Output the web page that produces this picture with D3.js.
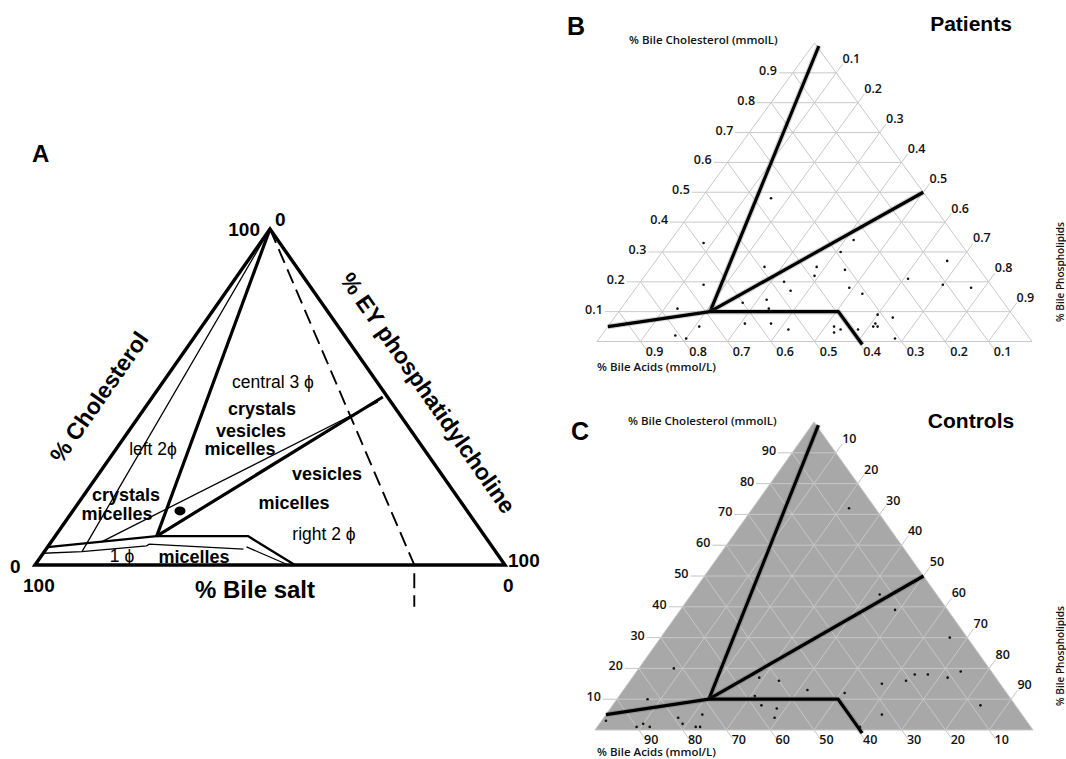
<!DOCTYPE html>
<html>
<head>
<meta charset="utf-8">
<script src="https://cdn.jsdelivr.net/npm/d3@7"></script>
<style>
body { margin: 0; background: #fff; }
svg { display: block; }
</style>
</head>
<body>
<div id="chart"></div>
<script>
// ---------- data ----------
// Panel A (values in %: [cholesterol, EY phosphatidylcholine])
var aThickLines = [
  [[100, 0], [8.6, 21.6]],
  [[8.6, 21.6], [50, 49]]
];
var aThinLines = [
  [[100, 0], [4, 8]],
  [[48.5, 48.7], [6.9, 10.7]],
  [[3.5, 0], [4, 8], [5.7, 20.9], [6.2, 21.2], [4.7, 42]],
  [[5.4, 42.3], [0, 53.9]]
];
var aMicelleBoundary = [[5.3, 0], [8.6, 21.6], [8.6, 41], [0, 55.3]];
var aDilutionLine = [[100, 0], [0, 80.7], [-12.4, 86.9]];
var aBileDot = [16.1, 22.8];
var aRegionLabels = ["central 3 ϕ", "crystals", "vesicles", "micelles", "left 2ϕ",
  "vesicles", "micelles", "right 2 ϕ", "crystals", "micelles", "1 ϕ", "micelles"];
var aRegionBold = [false, true, true, true, false, true, true, false, true, true, false, true];

// Panel B: patients (fractions)
var patientsChol = [0.48, 0.33, 0.19, 0.11, 0.05, 0.02, 0.01, 0.13, 0.25, 0.20, 0.17, 0.14, 0.11,
  0.06, 0.06, 0.04, 0.25, 0.22, 0.05, 0.03, 0.04, 0.30, 0.24, 0.34, 0.18, 0.16, 0.04, 0.05,
  0.05, 0.06, 0.09, 0.08, 0.01, 0.21, 0.27, 0.19, 0.18];
var patientsPL = [0.16, 0.08, 0.15, 0.13, 0.21, 0.17, 0.20, 0.27, 0.26, 0.33, 0.36, 0.32, 0.34,
  0.31, 0.37, 0.42, 0.38, 0.39, 0.52, 0.53, 0.54, 0.41, 0.45, 0.42, 0.49, 0.53, 0.58, 0.61,
  0.62, 0.61, 0.60, 0.64, 0.68, 0.61, 0.67, 0.70, 0.77];

// Panel C: controls (%)
var controlsChol = [72, 44, 39, 30, 20, 10, 3, 1, 2, 1, 4, 2, 1, 1, 5, 17, 16, 11, 8, 7, 4,
  13, 12, 1, 15, 16, 18, 18, 17, 19, 8, 5];
var controlsPL = [22, 43, 49, 66, 8, 7, 1, 9, 10, 12, 17, 19, 22.5, 23.5, 22, 29, 34, 31, 34,
  38, 39, 42, 51, 60, 58, 63, 64, 67, 72, 74, 84, 63];

// zone boundaries drawn on B and C (fractions: [cholesterol, phospholipid])
var zoneLines = [
  [[0.99, 0.015], [0.10, 0.21]],
  [[0.10, 0.21], [0.50, 0.50]],
  [[0.05, 0.0], [0.10, 0.21], [0.10, 0.505], [-0.01, 0.615]]
];

var bTicks = [0.1, 0.2, 0.3, 0.4, 0.5, 0.6, 0.7, 0.8, 0.9];
var cTicks = [10, 20, 30, 40, 50, 60, 70, 80, 90];

// ---------- drawing ----------
var W = 1066, H = 759;
var svg = d3.select("#chart").append("svg")
  .attr("width", W)
  .attr("height", H)
  .style("background", "#fff");

var ARIAL = "'Liberation Sans', Arial, Helvetica, sans-serif";
var UI = "'Open Sans', 'Noto Sans', sans-serif";

// ternary projection: apex = cholesterol, bottom-right = phospholipid
function projection(frame, max) {
  var sx = d3.scaleLinear().domain([0, max]).range([frame.left, frame.right]);
  var sy = d3.scaleLinear().domain([0, max]).range([frame.base, frame.top]);
  return function(c, p) { return [sx(p + c / 2), sy(c)]; };
}

function lineGen(pt) {
  return d3.line()
    .x(function(d) { return pt(d[0], d[1])[0]; })
    .y(function(d) { return pt(d[0], d[1])[1]; });
}

// ===== Panel A =====
var gA = svg.append("g");
var ptA = projection({ left: 35, right: 505, base: 565, top: 229 }, 100);
var lineA = lineGen(ptA);

gA.append("text")
  .attr("x", 32).attr("y", 162)
  .attr("font-family", ARIAL).attr("font-weight", "bold").attr("font-size", 24)
  .text("A");

gA.append("path")
  .attr("d", lineA(aDilutionLine))
  .attr("fill", "none").attr("stroke", "#000")
  .attr("stroke-width", 1.9).attr("stroke-dasharray", "15,7");

aThinLines.forEach(function(l) {
  gA.append("path").attr("d", lineA(l))
    .attr("fill", "none").attr("stroke", "#000").attr("stroke-width", 1.3);
});

gA.append("path").attr("d", lineA(aMicelleBoundary))
  .attr("fill", "none").attr("stroke", "#000").attr("stroke-width", 2.3)
  .attr("stroke-linejoin", "round");

aThickLines.forEach(function(l) {
  gA.append("path").attr("d", lineA(l))
    .attr("fill", "none").attr("stroke", "#000").attr("stroke-width", 3.2);
});

gA.append("path")
  .attr("d", lineA([[0, 0], [100, 0], [0, 100]]) + "Z")
  .attr("fill", "none").attr("stroke", "#000").attr("stroke-width", 3.4)
  .attr("stroke-linejoin", "miter");

var dot = ptA(aBileDot[0], aBileDot[1]);
gA.append("ellipse")
  .attr("cx", dot[0]).attr("cy", dot[1]).attr("rx", 5.5).attr("ry", 4.5)
  .attr("fill", "#000");

// corner numbers
var aCornerText = [
  { t: "100", x: 260, y: 236, a: "end" },
  { t: "0", x: 275, y: 226, a: "start" },
  { t: "0", x: 10, y: 573, a: "start" },
  { t: "100", x: 23, y: 592, a: "start" },
  { t: "100", x: 508, y: 567, a: "start" },
  { t: "0", x: 503, y: 592, a: "start" }
];
aCornerText.forEach(function(d) {
  gA.append("text").attr("x", d.x).attr("y", d.y).attr("text-anchor", d.a)
    .attr("font-family", ARIAL).attr("font-weight", "bold").attr("font-size", 19)
    .text(d.t);
});

// axis titles along the edges
gA.append("text")
  .attr("transform", "translate(99,397) rotate(-55.1)")
  .attr("text-anchor", "middle").attr("dy", "0.35em")
  .attr("font-family", ARIAL).attr("font-weight", "bold").attr("font-size", 23)
  .text("% Cholesterol");
gA.append("text")
  .attr("transform", "translate(428,393) rotate(55.1)")
  .attr("text-anchor", "middle").attr("dy", "0.35em")
  .attr("font-family", ARIAL).attr("font-weight", "bold").attr("font-size", 23)
  .text("% EY phosphatidylcholine");
gA.append("text")
  .attr("x", 255).attr("y", 598).attr("text-anchor", "middle")
  .attr("font-family", ARIAL).attr("font-weight", "bold").attr("font-size", 24)
  .text("% Bile salt");

// region labels (centre positions)
var aRegionPos = [[273, 382], [262, 409], [251, 431], [240, 449], [153, 449],
  [327, 474], [294, 503], [324, 534], [126, 495], [117, 514], [122, 556], [194, 557]];
aRegionLabels.forEach(function(t, i) {
  gA.append("text")
    .attr("x", aRegionPos[i][0]).attr("y", aRegionPos[i][1])
    .attr("dy", "0.35em").attr("text-anchor", "middle")
    .attr("font-family", ARIAL)
    .attr("font-weight", aRegionBold[i] ? "bold" : "normal")
    .attr("font-size", aRegionBold[i] ? 18 : 17.5)
    .text(t);
});

// ===== Panels B and C =====
function drawTernary(opt) {
  var g = svg.append("g");
  var max = opt.max;
  var pt = projection(opt.frame, max);
  var line = lineGen(pt);
  var ext = max * 0.032;
  var fmt = opt.format;

  g.append("path")
    .attr("d", line([[0, 0], [max, 0], [0, max]]) + "Z")
    .attr("fill", opt.fill).attr("stroke", opt.gridColor).attr("stroke-width", 1);

  opt.ticks.forEach(function(v) {
    // cholesterol: horizontal lines, tick to the left
    g.append("path").attr("d", line([[v, -ext], [v, max - v]]))
      .attr("stroke", opt.gridColor).attr("stroke-width", 1).attr("fill", "none");
    // phospholipid: parallel to left edge, tick up-right
    g.append("path").attr("d", line([[0, v], [max - v + ext * 0.9, v]]))
      .attr("stroke", opt.gridColor).attr("stroke-width", 1).attr("fill", "none");
    // bile acids: parallel to right edge, tick down-right
    g.append("path").attr("d", line([[-ext * 0.9, max - v + ext * 0.9], [max - v, 0]]))
      .attr("stroke", opt.gridColor).attr("stroke-width", 1).attr("fill", "none");

    var l = pt(v, -ext);
    g.append("text").attr("x", l[0] - 2).attr("y", l[1] + 2)
      .attr("text-anchor", "end")
      .attr("font-family", UI).attr("font-weight", 600).attr("font-size", 12.5)
      .attr("fill", "#111").text(fmt(v));
    var r = pt(max - v + ext * 0.9, v);
    g.append("text").attr("x", r[0]).attr("y", r[1] - 1)
      .attr("font-family", UI).attr("font-weight", 600).attr("font-size", 12.5)
      .attr("fill", "#111").text(fmt(v));
    var b = pt(-ext * 0.9, max - v + ext * 0.9);
    g.append("text").attr("x", b[0] - 1).attr("y", b[1] + 5.5)
      .attr("font-family", UI).attr("font-weight", 600).attr("font-size", 12.5)
      .attr("fill", "#111").text(fmt(v));
  });

  g.selectAll("circle.obs")
    .data(opt.chol)
    .enter().append("circle")
    .attr("class", "obs")
    .attr("cx", function(d, i) { return pt(d, opt.pl[i])[0]; })
    .attr("cy", function(d, i) { return pt(d, opt.pl[i])[1]; })
    .attr("r", 1.3)
    .attr("fill", "#111");

  zoneLines.forEach(function(l) {
    var scaled = l.map(function(d) { return [d[0] * max, d[1] * max]; });
    g.append("path").attr("d", line(scaled))
      .attr("fill", "none").attr("stroke", "#555").attr("stroke-width", 5.5)
      .attr("stroke-opacity", 0.25).attr("stroke-linejoin", "round");
    g.append("path").attr("d", line(scaled))
      .attr("fill", "none").attr("stroke", "#000").attr("stroke-width", 3.2)
      .attr("stroke-linejoin", "round");
  });

  var f = opt.frame;
  g.append("text").attr("x", f.letterX).attr("y", f.letterY)
    .attr("font-family", ARIAL).attr("font-weight", "bold").attr("font-size", 25)
    .text(opt.letter);
  g.append("text").attr("x", 971).attr("y", f.titleY).attr("text-anchor", "middle")
    .attr("font-family", ARIAL).attr("font-weight", "bold").attr("font-size", 21)
    .text(opt.title);
  g.append("text").attr("x", f.cholX).attr("y", f.cholY)
    .attr("font-family", UI).attr("font-weight", 600).attr("font-size", 11.5)
    .attr("fill", "#111").text("% Bile Cholesterol (mmolL)");
  g.append("text").attr("x", 597).attr("y", f.acidY)
    .attr("font-family", UI).attr("font-weight", 600).attr("font-size", 11.5)
    .attr("fill", "#111").text("% Bile Acids (mmol/L)");
  g.append("text")
    .attr("transform", "translate(1064," + f.plY + ") rotate(-90)")
    .attr("text-anchor", "middle")
    .attr("font-family", UI).attr("font-weight", 600).attr("font-size", 11.5)
    .attr("textLength", 100).attr("lengthAdjust", "spacingAndGlyphs")
    .attr("fill", "#111").text("% Bile Phospholipids");
}

drawTernary({
  frame: { left: 597, right: 1032, base: 341.5, top: 43,
           letterX: 567, letterY: 35, titleY: 31, cholX: 629, cholY: 44, acidY: 371, plY: 272 },
  max: 1,
  ticks: bTicks,
  format: d3.format(".1f"),
  fill: "#fff",
  gridColor: "#c9c9c9",
  chol: patientsChol,
  pl: patientsPL,
  letter: "B",
  title: "Patients"
});

drawTernary({
  frame: { left: 595, right: 1033, base: 730, top: 422,
           letterX: 571, letterY: 440, titleY: 428, cholX: 628, cholY: 425, acidY: 756, plY: 656 },
  max: 100,
  ticks: cTicks,
  format: d3.format("d"),
  fill: "#a8a8a8",
  gridColor: "#c6c6c6",
  chol: controlsChol,
  pl: controlsPL,
  letter: "C",
  title: "Controls"
});
</script>
</body>
</html>
